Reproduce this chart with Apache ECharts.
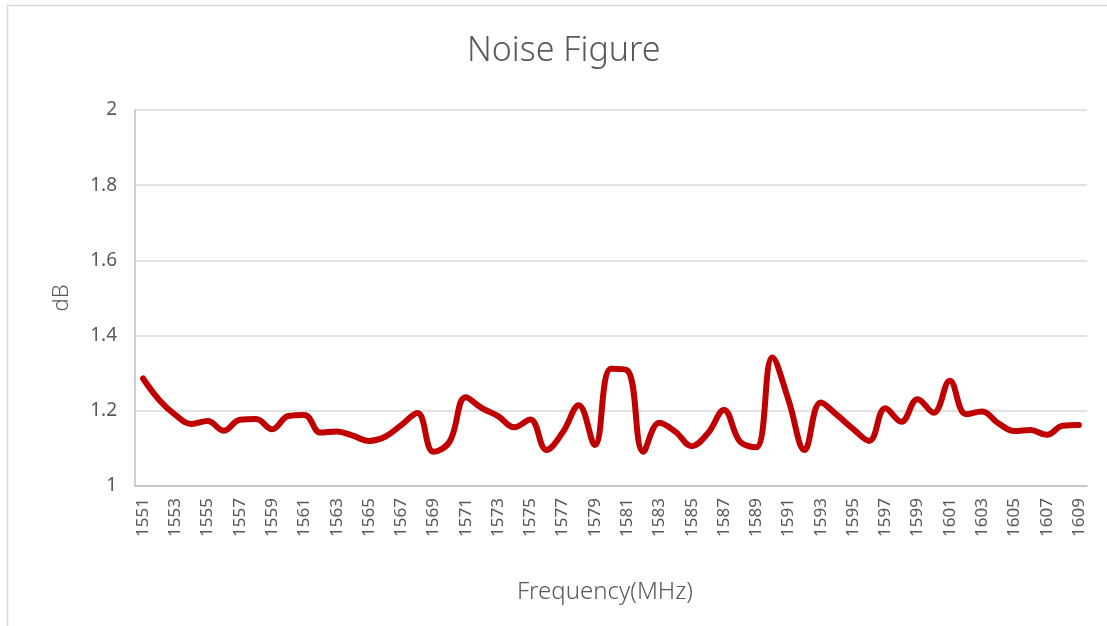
<!DOCTYPE html>
<html>
<head>
<meta charset="utf-8">
<script src="https://cdn.jsdelivr.net/npm/echarts@6/dist/echarts.min.js"></script>
<style>
html,body{margin:0;padding:0;background:#fff;}
#chart{width:1107px;height:626px;}
</style>
</head>
<body>
<div id="chart"></div>
<script>
var frequencies = [];
for (var f = 1551; f <= 1609; f++) frequencies.push(String(f));
var noiseFigure = [
  1.286, 1.229, 1.189, 1.165, 1.173, 1.147, 1.176, 1.178, 1.151, 1.186,
  1.189, 1.142, 1.145, 1.134, 1.120, 1.131, 1.162, 1.194, 1.091, 1.118,
  1.236, 1.207, 1.186, 1.156, 1.177, 1.096, 1.142, 1.215, 1.109, 1.312,
  1.308, 1.091, 1.168, 1.144, 1.106, 1.140, 1.202, 1.118, 1.103, 1.342,
  1.229, 1.096, 1.222, 1.189, 1.152, 1.120, 1.207, 1.171, 1.231, 1.195,
  1.280, 1.191, 1.198, 1.167, 1.146, 1.149, 1.136, 1.160, 1.162
];
var yTicks = { min: 1, max: 2, interval: 0.2 };

var chart = echarts.init(document.getElementById('chart'));
var FONT = '"Noto Sans", "DejaVu Sans", sans-serif';
chart.setOption({
  animation: false,
  backgroundColor: '#fff',
  textStyle: { fontFamily: FONT },
  title: {
    text: 'Noise Figure',
    left: 462,
    top: 29,
    textStyle: { fontSize: 34, fontWeight: 300, color: '#595959', fontFamily: FONT }
  },
  graphic: [{
    type: 'rect',
    shape: { x: 7.5, y: 5.5, width: 1200, height: 700 },
    style: { fill: 'none', stroke: '#d9d9d9', lineWidth: 1.5 },
    silent: true
  }],
  grid: { left: 135, right: 20, top: 110, bottom: 140, containLabel: false },
  xAxis: {
    type: 'category',
    data: frequencies,
    boundaryGap: true,
    name: 'Frequency(MHz)',
    nameLocation: 'middle',
    nameGap: 94,
    nameTextStyle: { fontSize: 24, color: '#595959', fontWeight: 300, padding: [0, 12, 0, 0] },
    axisLine: { show: true, lineStyle: { color: '#bfbfbf', width: 1.5 } },
    axisTick: { show: false },
    axisLabel: {
      interval: 1,
      rotate: 90,
      fontSize: 17,
      color: '#595959',
      margin: 12
    },
    splitLine: { show: false }
  },
  yAxis: {
    type: 'value',
    min: yTicks.min,
    max: yTicks.max,
    interval: yTicks.interval,
    name: 'dB',
    nameLocation: 'middle',
    nameGap: 62,
    nameRotate: 90,
    nameTextStyle: { fontSize: 22, color: '#595959', fontWeight: 300 },
    axisLine: { show: true, lineStyle: { color: '#bfbfbf', width: 1.5 } },
    axisTick: { show: false },
    axisLabel: {
      fontSize: 19,
      color: '#595959',
      margin: 18,
      formatter: function (v) { return String(Math.round(v * 10) / 10); }
    },
    splitLine: { show: true, lineStyle: { color: '#d9d9d9', width: 1.5 } }
  },
  series: [{
    type: 'line',
    data: noiseFigure,
    smooth: 0.4,
    symbol: 'none',
    lineStyle: { color: '#c00000', width: 6, cap: 'round', join: 'round' },
    itemStyle: { color: '#c00000' }
  }]
});
</script>
</body>
</html>
